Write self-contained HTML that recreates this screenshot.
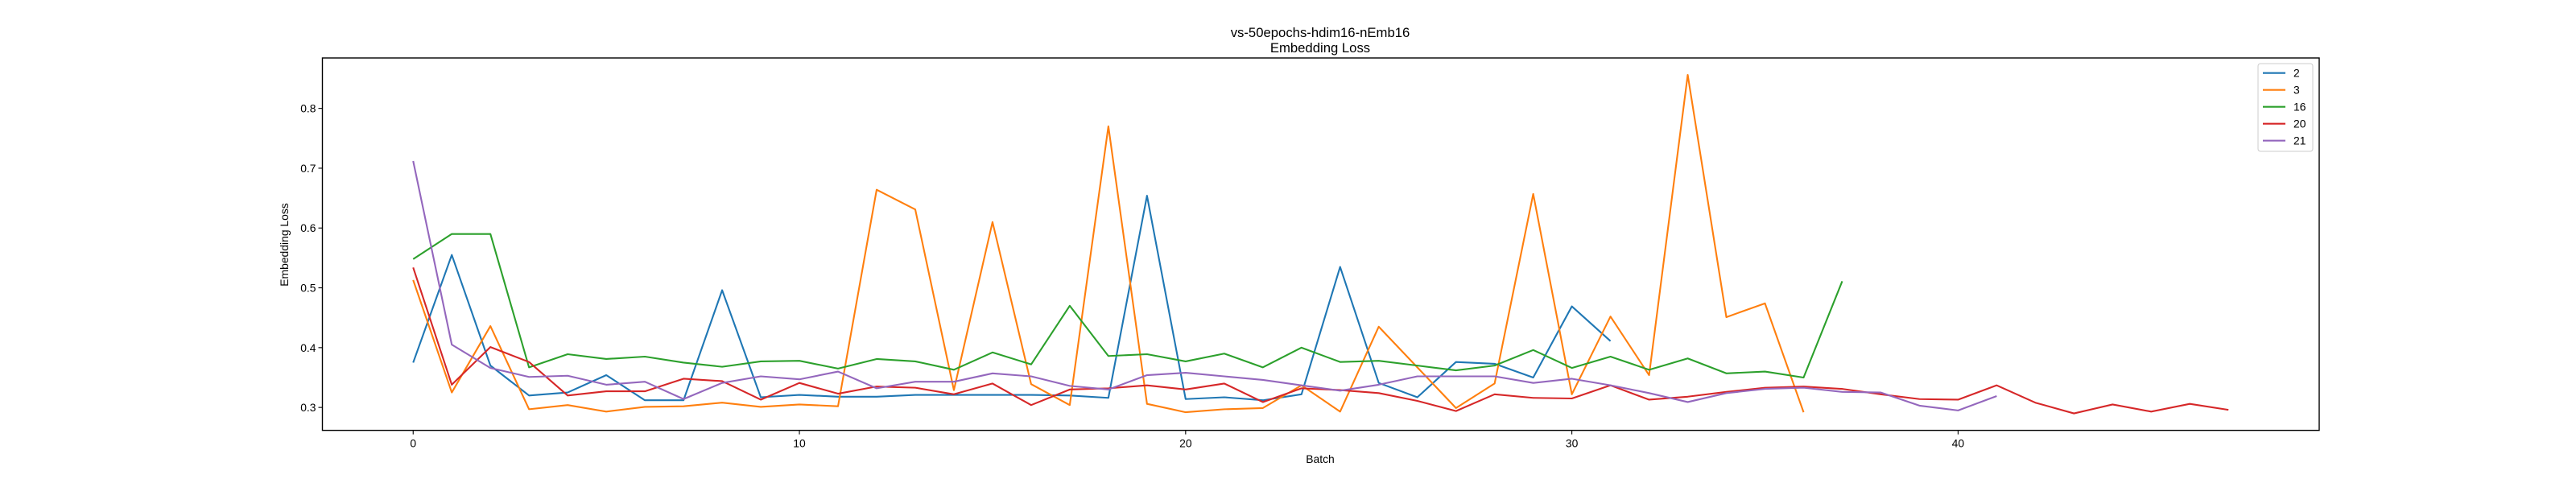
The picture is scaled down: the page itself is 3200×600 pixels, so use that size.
<!DOCTYPE html>
<html><head><meta charset="utf-8"><style>
html,body{margin:0;padding:0;background:#fff;}
svg{display:block;font-family:"Liberation Sans","DejaVu Sans",sans-serif;}
</style></head><body>
<svg id="chart" width="3200" height="600" viewBox="0 0 3200 600" xmlns="http://www.w3.org/2000/svg">
<rect width="3200" height="600" fill="#fff"/>
<text x="1640" y="46" font-size="16.7" text-anchor="middle">vs-50epochs-hdim16-nEmb16</text>
<text x="1640" y="65" font-size="16.7" text-anchor="middle">Embedding Loss</text>
<g id="plot"></g>
<rect x="400.5" y="72" width="2480.5" height="462.6" fill="none" stroke="#000" stroke-width="1.4"/>
<g id="xticks"></g><g id="yticks"></g>
<text x="1640" y="575" font-size="13.9" text-anchor="middle">Batch</text>
<text transform="translate(358,304) rotate(-90)" font-size="13.9" text-anchor="middle">Embedding Loss</text>
<g id="legend"></g>
</svg>
<script>
const seriesNames = ["2","3","16","20","21"];
const seriesColors = ["#1f77b4","#ff7f0e","#2ca02c","#d62728","#9467bd"];
const s2 = [0.375,0.555,0.37,0.32,0.325,0.354,0.312,0.312,0.496,0.317,0.321,0.318,0.318,0.321,0.321,0.321,0.321,0.32,0.316,0.654,0.314,0.317,0.312,0.322,0.535,0.341,0.317,0.376,0.373,0.35,0.469,0.411];
const s3 = [0.513,0.325,0.436,0.297,0.304,0.293,0.301,0.302,0.308,0.301,0.305,0.302,0.664,0.631,0.329,0.61,0.339,0.304,0.77,0.306,0.292,0.297,0.299,0.337,0.293,0.435,0.367,0.299,0.34,0.657,0.322,0.452,0.354,0.856,0.451,0.474,0.292];
const s16 = [0.548,0.59,0.59,0.367,0.389,0.381,0.385,0.375,0.368,0.377,0.378,0.365,0.381,0.377,0.363,0.392,0.372,0.47,0.386,0.389,0.377,0.39,0.367,0.4,0.376,0.378,0.37,0.362,0.37,0.396,0.366,0.385,0.363,0.382,0.357,0.36,0.35,0.511];
const s20 = [0.534,0.338,0.401,0.376,0.32,0.327,0.327,0.348,0.344,0.313,0.341,0.323,0.335,0.333,0.322,0.34,0.304,0.33,0.332,0.337,0.33,0.34,0.309,0.332,0.329,0.324,0.311,0.294,0.322,0.316,0.315,0.337,0.313,0.318,0.326,0.333,0.335,0.331,0.322,0.314,0.313,0.337,0.308,0.29,0.305,0.293,0.306,0.296];
const s21 = [0.712,0.405,0.366,0.351,0.353,0.338,0.343,0.314,0.341,0.352,0.347,0.36,0.332,0.343,0.343,0.357,0.352,0.336,0.33,0.354,0.358,0.352,0.346,0.337,0.328,0.338,0.352,0.352,0.352,0.341,0.348,0.337,0.324,0.309,0.324,0.331,0.333,0.326,0.325,0.303,0.295,0.319];
const xTicks = [0,10,20,30,40];
const yTicks = [0.3,0.4,0.5,0.6,0.7,0.8];
const allSeries = [s2,s3,s16,s20,s21];
const NS="http://www.w3.org/2000/svg";
const X0=400.5, X1=2881, Y0=534.6, Y1=72;
const maxLen=Math.max(...allSeries.map(s=>s.length))-1;
const allV=[].concat(...allSeries);
const vmin=Math.min(...allV), vmax=Math.max(...allV);
const xmin=-0.05*maxLen, xmax=maxLen*1.05;
const ymin=vmin-(vmax-vmin)*0.05, ymax=vmax+(vmax-vmin)*0.05;
function sx(v){return X0+(v-xmin)/(xmax-xmin)*(X1-X0);}
function sy(v){return Y0-(v-ymin)/(ymax-ymin)*(Y0-Y1);}
function mk(tag,attrs,parent){const e=document.createElementNS(NS,tag);for(const k in attrs)e.setAttribute(k,attrs[k]);parent.appendChild(e);return e;}
const plot=document.getElementById('plot');
allSeries.forEach((s,i)=>{
  const p=mk('polyline',{points:s.map((v,j)=>sx(j).toFixed(2)+','+sy(v).toFixed(2)).join(' '),fill:'none',stroke:seriesColors[i],'stroke-width':2.1,'stroke-linejoin':'round'},plot);
  
  
});
const xt=document.getElementById('xticks');
xTicks.forEach(t=>{
  const l=mk('line',{x1:sx(t),x2:sx(t),y1:Y0,y2:Y0+5,stroke:'#000','stroke-width':1.1},xt);
  
  
  const tx=mk('text',{x:sx(t),y:Y0+21,'font-size':13.9,'text-anchor':'middle'},xt);
  tx.textContent=t;
  
  
});
const yt=document.getElementById('yticks');
yTicks.forEach(t=>{
  const l=mk('line',{x1:X0-5,x2:X0,y1:sy(t),y2:sy(t),stroke:'#000','stroke-width':1.1},yt);
  
  
  const tx=mk('text',{x:X0-8,y:sy(t)+5,'font-size':13.9,'text-anchor':'end'},yt);
  tx.textContent=t.toFixed(1);
  
  
});
const lg=document.getElementById('legend');
const box=mk('rect',{x:2805,y:79,width:68,height:109,rx:3,fill:'#fff','fill-opacity':0.8,stroke:'#ccc','stroke-width':1},lg);


seriesNames.forEach((n,i)=>{
  const y=90.7+i*21;
  const l=mk('line',{x1:2811,x2:2839,y1:y,y2:y,stroke:seriesColors[i],'stroke-width':2.1},lg);
  
  
  const t=mk('text',{x:2849,y:y+5,'font-size':13.9},lg);
  t.textContent=n;
  
  
});
</script>
</body></html>
